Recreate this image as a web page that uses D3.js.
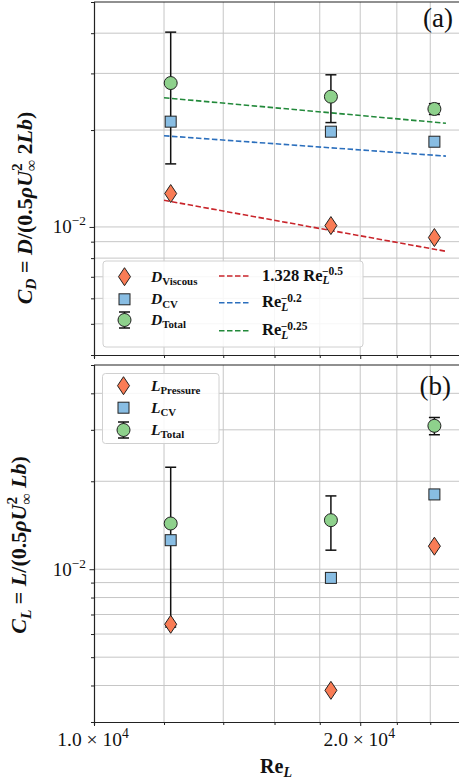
<!DOCTYPE html>
<html><head><meta charset="utf-8">
<script src="https://cdn.jsdelivr.net/npm/d3@7"></script>
<style>html,body{margin:0;padding:0;background:#fff;overflow:hidden}</style>
</head><body>
<svg id="c" width="459" height="781"></svg>
<script>
// ---- data ----
const reynolds = [12210, 18530, 24260];
const dViscous = [0.0127, 0.0101, 0.00927];
const dCV = [0.02124, 0.01977, 0.0184];
const dTotal = [0.0280, 0.0254, 0.02326];
const dTotalErr = [0.0123, 0.0043, 0.0009];
const fitRe = [12000, 25000];
const fitViscous = [0.0121, 0.0084];
const fitPow02 = [0.0192, 0.0166];
const fitPow025 = [0.0252, 0.0210];
const lPressure = [0.00648, 0.00385, 0.01199];
const lCV = [0.01257, 0.00934, 0.01803];
const lTotal = [0.01434, 0.01472, 0.03096];
const lTotalErr = [0.0080, 0.0031, 0.0021];
const xTicks = [10000, 12000, 14000, 16000, 18000, 20000, 22000, 24000];
const xMajor = [10000, 20000];
const yTicksTop = [0.005, 0.006, 0.007, 0.008, 0.009, 0.01, 0.02, 0.03, 0.04];
const yTicksBot = [0.004, 0.005, 0.006, 0.007, 0.008, 0.009, 0.01, 0.02, 0.03, 0.04];
const yMajor = [0.01];

// ---- style ----
const FONT = "'Liberation Serif','DejaVu Serif',serif";
const C_DIA = "#f97c55", C_SQ = "#88bde3", C_CIR = "#8ed18c";
const C_RED = "#c9252b", C_BLUE = "#2b6fbd", C_GREEN = "#22893a";
const svg = d3.select("#c");

const x = d3.scaleLog().domain([1e4, 2.6e4]).range([94, 461]);
const yTop = d3.scaleLog().domain([0.004, 0.05]).range([355, 2]);
const yBot = d3.scaleLog().domain([0.003, 0.05]).range([722, 365]);

// rich text helper: parts = [[text, {i,b,s:'sub'|'sup',dx}]]
function rich(sel, parts, base) {
  const t = sel.append("text").attr("font-family", FONT).attr("font-size", base)
    .attr("fill", "#111");
  let cur = 0;
  parts.forEach(([txt, o]) => {
    o = o || {};
    const fs = o.s ? base * 0.7 : base;
    const target = o.s === "sub" ? base * 0.22 : o.s === "sup" ? -base * 0.42 : 0;
    const ts = t.append("tspan").text(txt).attr("font-size", fs)
      .attr("dy", target - cur);
    if (o.dx) ts.attr("dx", o.dx);
    cur = target;
    if (o.i) ts.attr("font-style", "italic");
    if (o.b) ts.attr("font-weight", "bold");
  });
  return t;
}

function panel(y, yTicks) {
  const g = svg.append("g");
  const [y0, y1] = y.range();
  const [x0, x1] = x.range();
  g.selectAll(".gx").data(xTicks.filter(d => d > 10000)).join("line")
    .attr("x1", d => x(d)).attr("x2", d => x(d)).attr("y1", y1).attr("y2", y0)
    .attr("stroke", "#c6c6c6").attr("stroke-width", 1);
  g.selectAll(".gy").data(yTicks).join("line")
    .attr("x1", x0).attr("x2", x1).attr("y1", d => y(d)).attr("y2", d => y(d))
    .attr("stroke", "#c6c6c6").attr("stroke-width", 1);
  const ax = g.append("g").attr("transform", `translate(0,${y0})`)
    .call(d3.axisBottom(x).tickValues(xTicks).tickFormat("").tickSizeOuter(0).tickSize(3));
  const ay = g.append("g").attr("transform", `translate(${x0},0)`)
    .call(d3.axisLeft(y).tickValues(yTicks).tickFormat("").tickSizeOuter(0).tickSize(3));
  [ax, ay].forEach(a => {
    a.selectAll("path,line").attr("stroke", "#222");
    a.select("path.domain").attr("stroke-width", 1.2);
  });
  ax.selectAll(".tick").filter(d => xMajor.includes(d)).select("line").attr("y2", 4);
  ay.selectAll(".tick").filter(d => yMajor.includes(d)).select("line").attr("x2", -4.5);
  g.append("line").attr("x1", x0).attr("x2", x1).attr("y1", y1).attr("y2", y1)
    .attr("stroke", "#222").attr("stroke-width", 1.2);
  yMajor.forEach(v => {
    rich(g, [["10"], ["−2", {s: "sup"}]], 19)
      .attr("x", 86).attr("y", y(v) + 6.5).attr("text-anchor", "end");
  });
  return g;
}

function diamond(g, cx, cy) {
  g.append("path").attr("d", `M${cx},${cy-9}L${cx+6},${cy}L${cx},${cy+9}L${cx-6},${cy}Z`)
    .attr("fill", C_DIA).attr("stroke", "#222").attr("stroke-width", 1);
}
function square(g, cx, cy) {
  g.append("rect").attr("x", cx - 5.5).attr("y", cy - 5.5).attr("width", 11).attr("height", 11)
    .attr("fill", C_SQ).attr("stroke", "#222").attr("stroke-width", 1);
}
function circle(g, cx, cy) {
  g.append("circle").attr("cx", cx).attr("cy", cy).attr("r", 6.5)
    .attr("fill", C_CIR).attr("stroke", "#222").attr("stroke-width", 1);
}
function errbar(g, cx, cyTop, cyBot) {
  g.append("line").attr("x1", cx).attr("x2", cx).attr("y1", cyTop).attr("y2", cyBot)
    .attr("stroke", "#111").attr("stroke-width", 1.5);
  [cyTop, cyBot].forEach(v => g.append("line").attr("x1", cx - 5.5).attr("x2", cx + 5.5)
    .attr("y1", v).attr("y2", v).attr("stroke", "#111").attr("stroke-width", 1.5));
}

// ---- top panel ----
const gT = panel(yTop, yTicksTop);
[[fitViscous, C_RED], [fitPow02, C_BLUE], [fitPow025, C_GREEN]].forEach(([vals, col]) => {
  gT.append("path").datum(fitRe.map((r, i) => [r, vals[i]]))
    .attr("d", d3.line().x(d => x(d[0])).y(d => yTop(d[1])))
    .attr("fill", "none").attr("stroke", col).attr("stroke-width", 1.6)
    .attr("stroke-dasharray", "5.5,2.5");
});
reynolds.forEach((r, i) => {
  errbar(gT, x(r), yTop(dTotal[i] + dTotalErr[i]), yTop(dTotal[i] - dTotalErr[i]));
  circle(gT, x(r), yTop(dTotal[i]));
});
reynolds.forEach((r, i) => square(gT, x(r), yTop(dCV[i])));
reynolds.forEach((r, i) => diamond(gT, x(r), yTop(dViscous[i])));

gT.append("rect").attr("x", 103).attr("y", 261).attr("width", 260).attr("height", 86)
  .attr("rx", 3).attr("fill", "#fff").attr("fill-opacity", 0.85)
  .attr("stroke", "#d0d0d0").attr("stroke-width", 1);
diamond(gT, 124.5, 276.7);
square(gT, 124.5, 299.3);
errbar(gT, 124.5, 312, 328);
circle(gT, 124.5, 320);
[["Viscous", 276.7], ["CV", 299.3], ["Total", 320]].forEach(([s, yy]) => {
  rich(gT, [["D", {i: 1, b: 1}], [s, {s: "sub", b: 1}]], 15.5).attr("x", 151).attr("y", yy + 5);
});
[[C_RED, 276, "1.328 ", "−0.5"], [C_BLUE, 302.7, "", "−0.2"], [C_GREEN, 330.7, "", "−0.25"]]
  .forEach(([col, yy, pre, ex]) => {
    gT.append("line").attr("x1", 219).attr("x2", 251).attr("y1", yy).attr("y2", yy)
      .attr("stroke", col).attr("stroke-width", 1.6).attr("stroke-dasharray", "5.5,2.5");
    const t = rich(gT, [[pre + "Re", {b: 1}], ["L", {s: "sub", i: 1, b: 1}]], 16.5)
      .attr("x", 262).attr("y", yy + 4.5);
    t.append("tspan").text(ex).attr("font-size", 11.5).attr("font-weight", "bold")
      .attr("dx", -7.5).attr("dy", -3.63 - 5.6);
  });
gT.append("text").attr("x", 453).attr("y", 27).attr("text-anchor", "end")
  .attr("font-family", FONT).attr("font-size", 27).attr("fill", "#111").text("(a)");
rich(svg, [["C", {i: 1, b: 1}], ["D", {s: "sub", i: 1, b: 1}], [" = ", {b: 1}], ["D", {i: 1, b: 1}],
  ["/(0.5", {b: 1}], ["ρU", {i: 1, b: 1}], ["2", {s: "sup", b: 1}], ["∞", {s: "sub", b: 1, dx: -7.7}],
  [" 2", {b: 1}], ["Lb", {i: 1, b: 1}], [")", {b: 1}]], 22)
  .attr("text-anchor", "middle").attr("transform", "translate(31.5,208) rotate(-90)");

// ---- bottom panel ----
const gB = panel(yBot, yTicksBot);
reynolds.forEach((r, i) => {
  errbar(gB, x(r), yBot(lTotal[i] + lTotalErr[i]), yBot(lTotal[i] - lTotalErr[i]));
  circle(gB, x(r), yBot(lTotal[i]));
});
reynolds.forEach((r, i) => square(gB, x(r), yBot(lCV[i])));
reynolds.forEach((r, i) => diamond(gB, x(r), yBot(lPressure[i])));

gB.append("rect").attr("x", 102.5).attr("y", 373.5).attr("width", 116.5).attr("height", 70)
  .attr("rx", 3).attr("fill", "#fff").attr("fill-opacity", 0.85)
  .attr("stroke", "#d0d0d0").attr("stroke-width", 1);
diamond(gB, 123.5, 385.7);
square(gB, 123.5, 407.7);
errbar(gB, 123.5, 422, 438);
circle(gB, 123.5, 430);
[["Pressure", 385.7], ["CV", 407.7], ["Total", 430]].forEach(([s, yy]) => {
  rich(gB, [["L", {i: 1, b: 1}], [s, {s: "sub", b: 1}]], 15.5).attr("x", 151).attr("y", yy + 5);
});
gB.append("text").attr("x", 451).attr("y", 395).attr("text-anchor", "end")
  .attr("font-family", FONT).attr("font-size", 27).attr("fill", "#111").text("(b)");
rich(svg, [["C", {i: 1, b: 1}], ["L", {s: "sub", i: 1, b: 1}], [" = ", {b: 1}], ["L", {i: 1, b: 1}],
  ["/(0.5", {b: 1}], ["ρU", {i: 1, b: 1}], ["2", {s: "sup", b: 1}], ["∞", {s: "sub", b: 1, dx: -7.7}],
  [" ", {b: 1}], ["Lb", {i: 1, b: 1}], [")", {b: 1}]], 22)
  .attr("text-anchor", "middle").attr("transform", "translate(26,545) rotate(-90)");

// x tick labels
xMajor.forEach(v => {
  rich(svg, [[(v / 1e4).toFixed(1) + " × 10"], ["4", {s: "sup"}]], 19.5)
    .attr("x", x(v) - 1).attr("y", 746).attr("text-anchor", "middle");
});
rich(svg, [["Re", {b: 1}], ["L", {s: "sub", i: 1, b: 1}]], 20)
  .attr("x", 276).attr("y", 773).attr("text-anchor", "middle");
</script>
</body></html>
